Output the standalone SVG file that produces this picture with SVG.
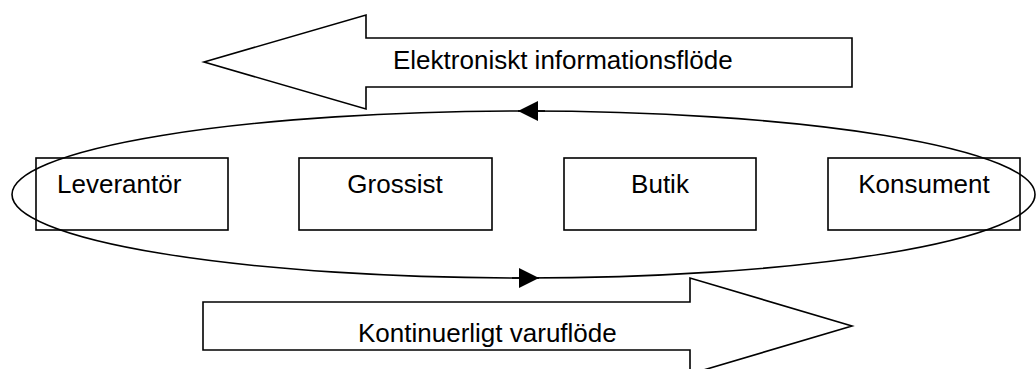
<svg xmlns="http://www.w3.org/2000/svg" width="1036" height="369" viewBox="0 0 1036 369">
  <style>
    .shape { fill: #ffffff; stroke: #000000; stroke-width: 1.6; stroke-linejoin: miter; }
    .line { fill: none; stroke: #000000; stroke-width: 1.6; }
    .lbl { font-family: "Liberation Sans", Arial, sans-serif; font-size: 26px; fill: #000000; }
    .c { text-anchor: middle; }
  </style>
  <defs>
    <marker id="tri" viewBox="0 0 20 20" refX="20" refY="10" markerWidth="20" markerHeight="20" markerUnits="userSpaceOnUse" orient="auto">
      <path d="M0,0 L20,10 L0,20 Z" fill="#000000"/>
    </marker>
  </defs>
  <rect width="1036" height="369" fill="#ffffff"/>

  <g id="arrow-info">
    <polygon class="shape" points="204,62 366,15 366,38 852,38 852,87 366,87 366,109"/>
    <text class="lbl" x="393" y="69">Elektroniskt informationsflöde</text>
  </g>

  <g id="arrow-goods">
    <polygon class="shape" points="203,302 690,302 690,278 852,326 690,374 690,350 203,350"/>
    <text class="lbl" x="358" y="342">Kontinuerligt varuflöde</text>
  </g>

  <g id="node-leverantor">
    <rect class="shape" x="36" y="158" width="192" height="72"/>
    <text class="lbl" x="57" y="193">Leverantör</text>
  </g>
  <g id="node-grossist">
    <rect class="shape" x="299" y="158" width="193" height="72"/>
    <text class="lbl c" x="395" y="193">Grossist</text>
  </g>
  <g id="node-butik">
    <rect class="shape" x="564" y="158" width="192" height="72"/>
    <text class="lbl c" x="660" y="193">Butik</text>
  </g>
  <g id="node-konsument">
    <rect class="shape" x="828" y="158" width="192" height="72"/>
    <text class="lbl c" x="924" y="193">Konsument</text>
  </g>

  <g id="connectors">
    <ellipse class="line" cx="523.5" cy="194.5" rx="511.5" ry="83.5"/>
    <path class="line" d="M545,111 L518,111" marker-end="url(#tri)"/>
    <path class="line" d="M512,278 L539,278" marker-end="url(#tri)"/>
  </g>
</svg>
